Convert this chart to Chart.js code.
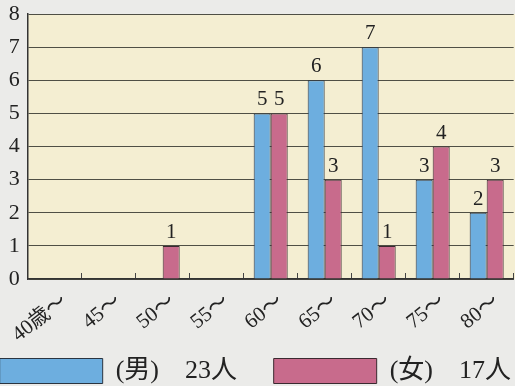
<!DOCTYPE html>
<html>
<head>
<meta charset="utf-8">
<script src="https://cdn.jsdelivr.net/npm/chart.js"></script>
<style>
html, body { margin: 0; padding: 0; background: #ebebe9; overflow: hidden; }
#wrap { position: relative; width: 515px; height: 386px; overflow: hidden; }
#myChart { position: absolute; top: 0; }
</style>
</head>
<body>
<div id="wrap"><canvas id="myChart" width="640" height="386"></canvas></div>
<script>
// data
var ageLabels = ['40歳〜', '45〜', '50〜', '55〜', '60〜', '65〜', '70〜', '75〜', '80〜'];
var maleCounts = [0, 0, 0, 0, 5, 6, 7, 3, 2];
var femaleCounts = [0, 0, 1, 0, 5, 3, 1, 4, 3];
var maleName = '(男)　23人';
var femaleName = '(女)　17人';
var yMin = 0, yMax = 8, yStep = 1;

var serif = "'Liberation Serif', 'DejaVu Serif', 'Noto Sans CJK JP', serif";
var legendFont = 26;
var boxW = 103;

// legend spacing so the second box lands where it does in the picture
var m = document.createElement('canvas').getContext('2d');
m.font = legendFont + 'px ' + serif;
var itemW = boxW + legendFont / 2 + m.measureText(maleName).width;
var pad = Math.max(4, 274 - itemW);

var cv = document.getElementById('myChart');
cv.style.left = (-pad) + 'px';

var bgPlugin = {
    id: 'plotBg',
    beforeDraw: function(c) {
        var a = c.chartArea, ctx = c.ctx;
        ctx.save();
        ctx.fillStyle = '#f4eed2';
        ctx.fillRect(a.left, a.top, a.right - a.left + 4, a.bottom - a.top);
        ctx.restore();
    }
};

var valuePlugin = {
    id: 'values',
    afterDatasetsDraw: function(c) {
        var ctx = c.ctx;
        ctx.save();
        ctx.font = '21px ' + serif;
        ctx.fillStyle = '#222';
        ctx.textAlign = 'center';
        ctx.textBaseline = 'bottom';
        c.data.datasets.forEach(function(ds, i) {
            c.getDatasetMeta(i).data.forEach(function(bar, j) {
                if (ds.data[j] > 0) ctx.fillText(ds.data[j], bar.x, bar.y - 3);
            });
        });
        ctx.restore();
    }
};

var legendFit = {
    id: 'legendFit',
    beforeInit: function(c) {
        var orig = c.legend.fit;
        c.legend.fit = function() {
            orig.bind(c.legend)();
            this.height = 386 - (358 - pad);
        };
    },
    afterLayout: function(c) {
        // let the slanted age labels run below into the legend band
        c.scales.x.bottom = 386;
    }
};

var chart = new Chart(cv.getContext('2d'), {
    type: 'bar',
    data: {
        labels: ageLabels,
        datasets: [{
            label: maleName,
            data: maleCounts,
            backgroundColor: '#6daedf',
            borderColor: '#2a3440',
            borderWidth: 1
        }, {
            label: femaleName,
            data: femaleCounts,
            backgroundColor: '#c86b8c',
            borderColor: '#3a2a30',
            borderWidth: 1
        }]
    },
    options: {
        responsive: false,
        animation: false,
        layout: { padding: { top: 14, left: 0, right: 0, bottom: 0 } },
        datasets: { bar: { categoryPercentage: 0.63, barPercentage: 1.0 } },
        plugins: {
            tooltip: { enabled: false },
            legend: {
                position: 'bottom',
                align: 'start',
                labels: {
                    boxWidth: boxW,
                    boxHeight: 25,
                    padding: pad,
                    color: '#222',
                    font: { family: serif, size: legendFont }
                }
            }
        },
        scales: {
            x: {
                grid: { display: true, drawOnChartArea: false, drawTicks: true, tickLength: -6, color: '#444' },
                border: { display: true, color: '#333', width: 1.5 },
                ticks: {
                    color: '#222',
                    font: { family: serif, size: 21 },
                    minRotation: 38,
                    maxRotation: 38,
                    autoSkip: false,
                    labelOffset: 10,
                    padding: 16
                },
                afterFit: function(s) { s.height = (358 - pad) - 279; }
            },
            y: {
                min: yMin,
                max: yMax,
                grid: { color: '#4f4f45', lineWidth: 1, drawTicks: true, tickLength: 8, tickColor: 'rgba(0,0,0,0)' },
                border: { display: true, color: '#333', width: 1.5 },
                ticks: {
                    stepSize: yStep,
                    padding: 0,
                    color: '#222',
                    font: { family: serif, size: 22, lineHeight: 1.1 }
                },
                afterFit: function(s) { s.width = 28 + pad; }
            },
            edge: {
                position: 'right',
                display: true,
                grid: { display: false },
                border: { display: false },
                ticks: { display: false },
                afterFit: function(s) { s.width = 640 - (514 + pad); }
            }
        }
    },
    plugins: [bgPlugin, valuePlugin, legendFit]
});
</script>
</body>
</html>
